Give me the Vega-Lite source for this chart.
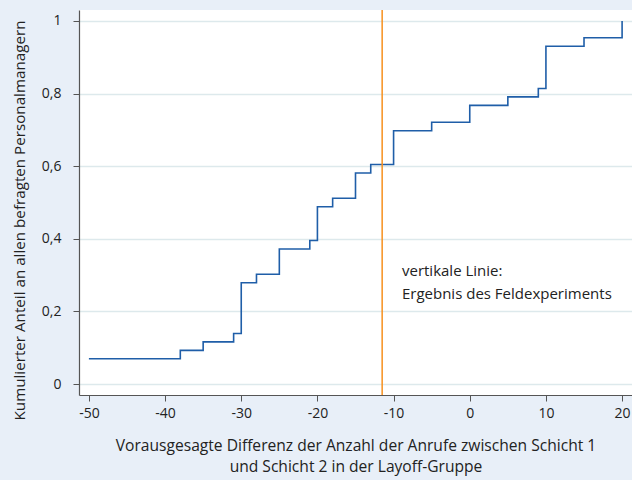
{
  "$schema": "https://vega.github.io/schema/vega-lite/v6.json",
  "width": 553,
  "height": 385,
  "autosize": {"type": "none"},
  "padding": {"left": 79, "top": 10, "right": 0, "bottom": 85},
  "background": "#e8eff8",
  "config": {
    "view": {"fill": "white", "stroke": null},
    "font": "Open Sans",
    "axis": {"labelFont": "Open Sans", "titleFont": "Open Sans", "labelColor": "#222", "titleColor": "#222", "titleFontWeight": "normal", "labelFontSize": 14, "titleFontSize": 15, "domainColor": "#555", "tickColor": "#555", "tickSize": 6, "domainWidth": 1.2}
  },
  "datasets": {
    "steps": [
      {"x": -50, "y": 0.0698},
      {"x": -38, "y": 0.093},
      {"x": -35, "y": 0.1163},
      {"x": -31, "y": 0.1395},
      {"x": -30, "y": 0.2791},
      {"x": -28, "y": 0.3023},
      {"x": -25, "y": 0.3721},
      {"x": -21, "y": 0.3953},
      {"x": -20, "y": 0.4884},
      {"x": -18, "y": 0.5116},
      {"x": -15, "y": 0.5814},
      {"x": -13, "y": 0.6047},
      {"x": -10, "y": 0.6977},
      {"x": -5, "y": 0.7209},
      {"x": 0, "y": 0.7674},
      {"x": 5, "y": 0.7907},
      {"x": 9, "y": 0.814},
      {"x": 10, "y": 0.9302},
      {"x": 15, "y": 0.9535},
      {"x": 20, "y": 1.0}
    ]
  },
  "layer": [
    {
      "data": {"name": "steps"},
      "mark": {"type": "line", "interpolate": "step-after", "color": "#1f5ea8", "strokeWidth": 1.6},
      "encoding": {
        "x": {"field": "x", "type": "quantitative", "scale": {"domain": [-51.3, 21.3], "nice": false, "zero": false},
          "axis": {"values": [-50, -40, -30, -20, -10, 0, 10, 20], "grid": false, "labelPadding": 5,
            "labelExpr": "replace(format(datum.value, 'd'), '\u2212', '-')",
            "title": ["Vorausgesagte Differenz der Anzahl der Anrufe zwischen Schicht 1", "und Schicht 2 in der Layoff-Gruppe"],
            "titlePadding": 18, "titleLineHeight": 21, "titleFontSize": 15.6, "labelFlush": false}},
        "y": {"field": "y", "type": "quantitative", "scale": {"domain": [-0.03, 1.03], "nice": false, "zero": false},
          "axis": {"values": [0, 0.2, 0.4, 0.6, 0.8, 1], "grid": true, "gridColor": "#dde9ec", "gridWidth": 1.3,
            "labelExpr": "replace(format(datum.value, '~g'), '.', ',')", "labelPadding": 12,
            "title": "Kumulierter Anteil an allen befragten Personalmanagern", "titlePadding": 14, "titleY": 210, "titleFontSize": 15.2, "labelFlush": false}}
      }
    },
    {
      "data": {"values": [{"x": -11.5}]},
      "mark": {"type": "rule", "color": "#f7901e", "strokeWidth": 1.5},
      "encoding": {"x": {"field": "x", "type": "quantitative"}}
    },
    {
      "data": {"values": [{"x": -8.9, "y": 0.312, "label": ["vertikale Linie:", "Ergebnis des Feldexperiments"]}]},
      "mark": {"type": "text", "align": "left", "baseline": "middle", "fontSize": 15, "color": "#222", "lineHeight": 23, "dy": 0},
      "encoding": {
        "x": {"field": "x", "type": "quantitative"},
        "y": {"field": "y", "type": "quantitative"},
        "text": {"field": "label"}
      }
    }
  ]
}
